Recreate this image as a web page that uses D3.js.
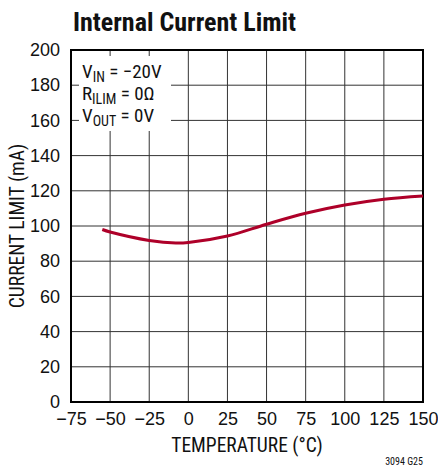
<!DOCTYPE html>
<html><head><meta charset="utf-8">
<script src="https://cdn.jsdelivr.net/npm/d3@7"></script>
<style>
body{margin:0;background:#fff;}
svg{display:block;}
text{font-family:"Liberation Sans Narrow","Roboto Condensed","Liberation Sans",Arial,sans-serif;fill:#111;}
</style></head>
<body>
<script>
const temps = [-55, -50, -25, -8, 0, 25, 50, 75, 100, 125, 150];
const currents = [98, 96.6, 91.8, 90.3, 90.6, 94.3, 101, 107.2, 111.9, 115.2, 117];
const xTicks = [-75, -50, -25, 0, 25, 50, 75, 100, 125, 150];
const yTicks = [0, 20, 40, 60, 80, 100, 120, 140, 160, 180, 200];

const W = 438, H = 469;
const m = {left: 71, right: 423, top: 50, bottom: 402};
const svg = d3.select("body").append("svg").attr("width", W).attr("height", H);
const x = d3.scaleLinear().domain([-75, 150]).range([m.left, m.right]);
const y = d3.scaleLinear().domain([0, 200]).range([m.bottom, m.top]);

// grid
const g = svg.append("g");
g.selectAll(".vx").data(xTicks).enter().append("line")
  .attr("x1", d => x(d)).attr("x2", d => x(d)).attr("y1", m.top).attr("y2", m.bottom)
  .attr("stroke", "#333").attr("stroke-width", 1);
g.selectAll(".hy").data(yTicks).enter().append("line")
  .attr("y1", d => y(d)).attr("y2", d => y(d)).attr("x1", m.left).attr("x2", m.right)
  .attr("stroke", "#333").attr("stroke-width", 1);

// legend background
svg.append("rect").attr("x", 79).attr("y", 56).attr("width", 92).attr("height", 75).attr("fill", "#fff");

// frame
svg.append("rect").attr("x", m.left).attr("y", m.top).attr("width", m.right - m.left).attr("height", m.bottom - m.top)
  .attr("fill", "none").attr("stroke", "#000").attr("stroke-width", 2);

const tickFont = '"Liberation Sans Narrow","Liberation Sans",sans-serif';
const xAxis = d3.axisBottom(x).tickValues(xTicks).tickSize(0).tickPadding(10)
  .tickFormat(d => d < 0 ? "\u2212" + Math.abs(d) : d);
const xa = svg.append("g").attr("transform", `translate(0,${m.bottom})`).call(xAxis);
xa.select(".domain").remove();
xa.selectAll("text").attr("font-size", 18).attr("fill", "#111").style("font-family", tickFont);

const yAxis = d3.axisLeft(y).tickValues(yTicks).tickSize(0).tickPadding(11);
const ya = svg.append("g").attr("transform", `translate(${m.left},0)`).call(yAxis);
ya.select(".domain").remove();
ya.selectAll("text").attr("font-size", 18).attr("fill", "#111").style("font-family", tickFont);

// curve
const line = d3.line().x((d, i) => x(temps[i])).y(d => y(d)).curve(d3.curveCatmullRom.alpha(0.5));
svg.append("path").datum(currents).attr("d", line)
  .attr("fill", "none").attr("stroke", "#ae0029").attr("stroke-width", 3);

// title
svg.append("text").attr("x", 73).attr("y", 31).attr("font-size", 26).attr("font-weight", "bold")
  .text("Internal Current Limit");

// legend text
const leg = svg.append("g").attr("font-size", 19);
function legLine(yy, main, sub, rest) {
  const t = leg.append("text").attr("x", 82).attr("y", yy);
  t.append("tspan").text(main);
  t.append("tspan").attr("font-size", 14).attr("dy", 4).text(sub);
  t.append("tspan").attr("dy", -4).text(rest);
}
legLine(78, "V", "IN", " = \u221220V");
legLine(100, "R", "ILIM", " = 0\u03A9");
legLine(122, "V", "OUT", " = 0V");

// axis titles
svg.append("text").attr("x", 247).attr("y", 452).attr("text-anchor", "middle")
  .attr("font-size", 19.5).text("TEMPERATURE (\u00B0C)");
svg.append("text").attr("transform", `translate(24,${(m.top + m.bottom) / 2}) rotate(-90)`)
  .attr("text-anchor", "middle").attr("font-size", 19.5).text("CURRENT LIMIT (mA)");

// figure id
svg.append("text").attr("x", 423).attr("y", 465).attr("text-anchor", "end").attr("font-size", 10).text("3094 G25");
</script>
</body></html>
